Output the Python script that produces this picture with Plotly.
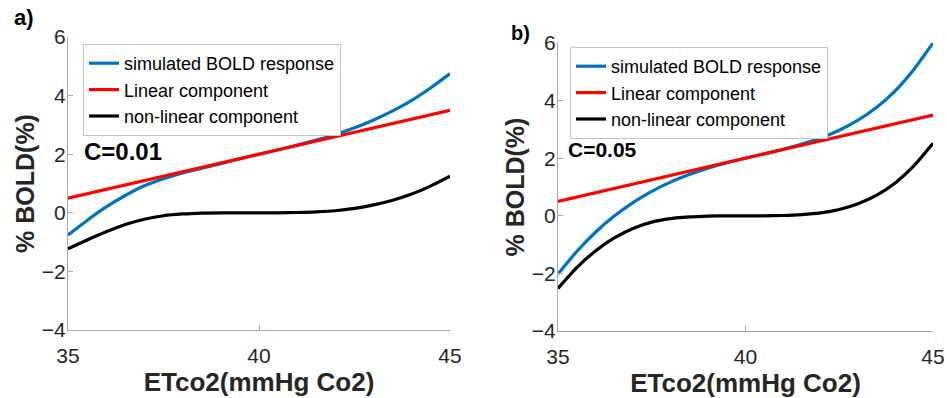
import plotly.graph_objects as go

# ---- data ----
x_pts = [35, 35.5, 36, 36.5, 37, 37.5, 38, 38.5, 39, 39.5, 40,
         40.5, 41, 41.5, 42, 42.5, 43, 43.5, 44, 44.5, 45]

# panel a) C=0.01
a_bold = [-0.76, -0.26, 0.2, 0.59, 0.92, 1.16, 1.36, 1.52, 1.68, 1.84, 2.0,
          2.15, 2.31, 2.48, 2.67, 2.9, 3.17, 3.48, 3.84, 4.27, 4.75]
a_lin_x = [35, 45]
a_lin = [0.5, 3.5]
a_nonlin = [-1.23, -0.93, -0.65, -0.4, -0.22, -0.1, -0.04, -0.01, 0.0, 0.0, 0.0,
            0.0, 0.01, 0.03, 0.07, 0.15, 0.27, 0.43, 0.64, 0.92, 1.25]

# panel b) C=0.05
b_bold = [-2.02, -1.24, -0.57, -0.01, 0.46, 0.85, 1.17, 1.43, 1.65, 1.84, 2.0,
          2.15, 2.31, 2.49, 2.7, 2.97, 3.32, 3.77, 4.35, 5.1, 6.0]
b_lin_x = [35, 45]
b_lin = [0.5, 3.5]
b_nonlin = [-2.52, -1.8, -1.22, -0.77, -0.44, -0.22, -0.1, -0.04, -0.01, 0.0, 0.0,
            0.0, 0.01, 0.04, 0.1, 0.22, 0.42, 0.72, 1.15, 1.75, 2.52]

names = ["simulated BOLD response", "Linear component", "non-linear component"]
colors = ["#0072BD", "#FF0000", "#000000"]
x_ticks = [35, 40, 45]
y_ticks = [-4, -2, 0, 2, 4, 6]

FONT = "Liberation Sans, Arial, sans-serif"
TXT = "#262626"
AX = "#a8a8a8"

fig = go.Figure()

def add_panel(xa, ya, leg, bold, linx, lin, nonlin):
    series = [(x_pts, bold), (linx, lin), (x_pts, nonlin)]
    for (xs, ys), nm, c in zip(series, names, colors):
        fig.add_trace(go.Scatter(
            x=xs, y=ys, mode="lines", name=nm,
            line=dict(color=c, width=3.2, shape="spline", smoothing=0.6),
            xaxis=xa, yaxis=ya, legend=leg, cliponaxis=False))

add_panel("x", "y", "legend", a_bold, a_lin_x, a_lin, a_nonlin)
add_panel("x2", "y2", "legend2", b_bold, b_lin_x, b_lin, b_nonlin)

W, H = 947, 398

def xd(p0, p1):
    return [p0 / W, p1 / W]

def yd(top, bottom):
    return [(H - bottom) / H, (H - top) / H]

xcommon = dict(range=[35, 45], tickvals=x_ticks, ticks="inside", ticklen=5,
               tickcolor=AX, showline=True, linecolor=AX, linewidth=1,
               showgrid=False, zeroline=False, automargin=False,
               tickfont=dict(family=FONT, size=21, color=TXT),
               ticklabelstandoff=7,
               title=dict(text="<b>ETco2(mmHg Co2)</b>",
                          font=dict(family=FONT, size=26, color=TXT), standoff=4))
ycommon = dict(range=[-4, 6], tickvals=y_ticks, ticks="inside", ticklen=5,
               tickcolor=AX, showline=True, linecolor=AX, linewidth=1,
               showgrid=False, zeroline=False, automargin=False,
               tickfont=dict(family=FONT, size=21, color=TXT),
               ticklabelstandoff=-3,
               title=dict(text="<b>% BOLD(%)</b>",
                          font=dict(family=FONT, size=25, color=TXT), standoff=0))

legcommon = dict(font=dict(family=FONT, size=18, color="#000000"),
                 bgcolor="white", bordercolor="#c4c4c4", borderwidth=1,
                 xanchor="left", yanchor="top", tracegroupgap=0,
                 itemwidth=30)

fig.update_layout(
    width=W, height=H,
    margin=dict(l=0, r=0, t=0, b=0),
    paper_bgcolor="white", plot_bgcolor="white",
    xaxis=dict(domain=xd(68, 450), anchor="y", **xcommon),
    yaxis=dict(domain=yd(37, 330), anchor="x", **ycommon),
    xaxis2=dict(domain=xd(558, 933), anchor="y2", **xcommon),
    yaxis2=dict(domain=yd(43, 331), anchor="x2", **ycommon),
    legend=dict(x=83 / W, y=(H - 44) / H, **legcommon),
    legend2=dict(x=570 / W, y=(H - 47) / H, **legcommon),
    annotations=[
        dict(text="<b>a)</b>", x=12 / W, y=(H - 17) / H, xref="paper", yref="paper",
             xanchor="left", yanchor="middle", showarrow=False,
             font=dict(family=FONT, size=22, color="#000000")),
        dict(text="<b>b)</b>", x=509 / W, y=(H - 33) / H, xref="paper", yref="paper",
             xanchor="left", yanchor="middle", showarrow=False,
             font=dict(family=FONT, size=20, color="#000000")),
        dict(text="<b>C=0.01</b>", x=82 / W, y=(H - 151) / H, xref="paper", yref="paper",
             xanchor="left", yanchor="middle", showarrow=False,
             font=dict(family=FONT, size=24, color="#000000")),
        dict(text="<b>C=0.05</b>", x=566 / W, y=(H - 149) / H, xref="paper", yref="paper",
             xanchor="left", yanchor="middle", showarrow=False,
             font=dict(family=FONT, size=21, color="#000000")),
    ],
    showlegend=True,
)

fig.write_html("out.html")
